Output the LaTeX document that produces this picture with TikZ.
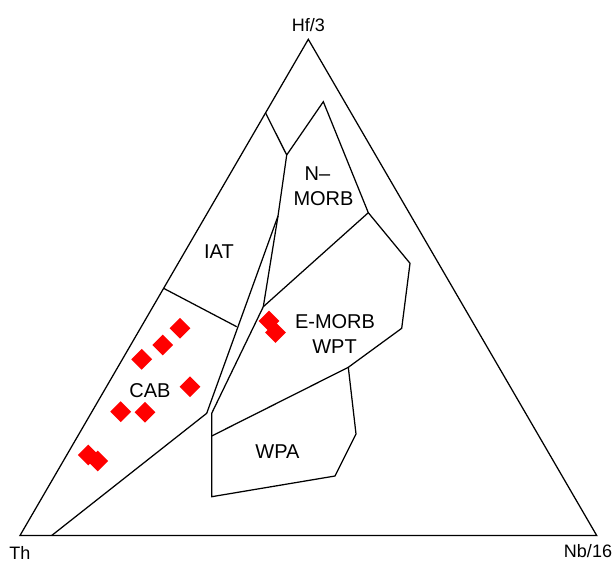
\documentclass[tikz,border=0pt]{standalone}
\usepackage{fontspec}
\setmainfont{Liberation Sans}
\usetikzlibrary{shapes.geometric}
\begin{document}
\begin{tikzpicture}[x=1pt,y=-1pt,
  bd/.style={line width=1.25pt, line join=miter, black},
  lab/.style={anchor=base, inner sep=0pt, font=\fontsize{20}{24}\selectfont},
  corner/.style={anchor=base, inner sep=0pt, font=\fontsize{18}{22}\selectfont},
  pt/.style={diamond, fill=red, draw=none, minimum size=21pt, inner sep=0pt}]
\useasboundingbox (0,0) rectangle (612,563);
% corners
\coordinate (top) at (308.3,39.3);
\coordinate (th) at (20,535.5);
\coordinate (nb) at (596.7,535.5);
% field boundary points
\coordinate (A) at (265.8,113.3);
\coordinate (B) at (286.7,155);
\coordinate (C) at (323.3,101.7);
\coordinate (D) at (368.3,212.7);
\coordinate (E1) at (410,263.3);
\coordinate (E2) at (401.7,328.3);
\coordinate (E3) at (348.3,367.3);
\coordinate (S) at (278,216);
\coordinate (R1) at (263.3,306.7);
\coordinate (R2) at (211.7,413.3);
\coordinate (R3) at (211.7,496.7);
\coordinate (W0) at (211.7,436);
\coordinate (W1) at (356,434);
\coordinate (W2) at (335,476);
\coordinate (L1) at (236.7,326.7);
\coordinate (L2) at (206.7,413.3);
\coordinate (L3) at (51.7,535.5);
\coordinate (K) at (163.6,288.3);
% triangle
\draw[bd] (top) -- (nb) -- (th) -- cycle;
% fields
\draw[bd] (A) -- (B) -- (C) -- (D) -- (E1) -- (E2) -- (E3) -- (W1) -- (W2) -- (R3) -- (R2) -- (R1) -- (S) -- (B);
\draw[bd] (D) -- (R1);
\draw[bd] (E3) -- (W0);
\draw[bd] (S) -- (L2) -- (L3);
\draw[bd] (K) -- (L1);
% labels
\node[corner] (lhf) at (308.3,31.7) {Hf/3};
\node[corner] (lth) at (20,559) {Th};
\node[corner] (lnb) at (588,557) {Nb/16};
\node[lab] (liat) at (219,258) {IAT};
\node[lab] (lcab) at (150,397.3) {CAB};
\node[lab] (ln1) at (317.5,180) {N–};
\node[lab] (ln2) at (323.5,205) {MORB};
\node[lab] (lem) at (335,328) {E-MORB};
\node[lab] (lwpt) at (334.5,353) {WPT};
\node[lab] (lwpa) at (277.5,458) {WPA};
% samples
\node[pt] (d1) at (180,328.3) {};
\node[pt] (d2) at (162.7,345) {};
\node[pt] (d3) at (141.7,359.3) {};
\node[pt] (d4) at (190,386.7) {};
\node[pt] (d5) at (120.7,411.7) {};
\node[pt] (d6) at (145,412.3) {};
\node[pt] (d7) at (88.3,455) {};
\node[pt] (d8) at (97.7,461) {};
\node[pt] (d9) at (269,321) {};
\node[pt] (d10) at (275.5,332.5) {};
\end{tikzpicture}
\end{document}
